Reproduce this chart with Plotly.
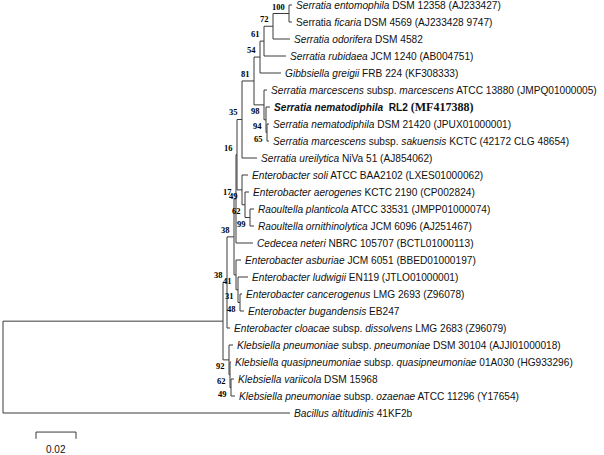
import plotly.graph_objects as go

# ---------------- data ----------------
LEAF_NAMES = ["ent", "fic", "odo", "rub", "gib", "marc", "RL2", "nem", "sak", "ure",
              "soli", "aer", "pla", "orn", "ced", "asb", "lud", "can", "bug", "clo",
              "kpn", "qua", "var", "oza", "bac"]
LEAF_LABELS = [
    "<i>Serratia entomophila</i> DSM 12358 (AJ233427)",
    "Serratia <i>ficaria</i> DSM 4569 (AJ233428 9747)",
    "<i>Serratia odorifera</i> DSM 4582",
    "<i>Serratia rubidaea</i> JCM 1240 (AB004751)",
    "<i>Gibbsiella greigii</i> FRB 224 (KF308333)",
    "<i>Serratia marcescens</i> subsp. <i>marcescens</i> ATCC 13880 (JMPQ01000005)",
    "<b><i>Serratia nematodiphila</i>  RL2 </b><span style='font-family:Liberation Serif;font-size:12px'><b>(MF417388)</b></span>",
    "<i>Serratia nematodiphila</i> DSM 21420 (JPUX01000001)",
    "<i>Serratia marcescens</i> subsp. <i>sakuensis</i> KCTC (42172 CLG 48654)",
    "<i>Serratia ureilytica</i> NiVa 51 (AJ854062)",
    "<i>Enterobacter soli</i> ATCC BAA2102 (LXES01000062)",
    "<i>Enterobacter aerogenes</i> KCTC 2190 (CP002824)",
    "<i>Raoultella planticola</i> ATCC 33531 (JMPP01000074)",
    "<i>Raoultella ornithinolytica</i> JCM 6096 (AJ251467)",
    "<i>Cedecea neteri</i> NBRC 105707 (BCTL01000113)",
    "<i>Enterobacter asburiae</i> JCM 6051 (BBED01000197)",
    "<i>Enterobacter ludwigii</i> EN119 (JTLO01000001)",
    "<i>Enterobacter cancerogenus</i> LMG 2693 (Z96078)",
    "<i>Enterobacter bugandensis</i> EB247",
    "<i>Enterobacter cloacae</i> subsp. <i>dissolvens</i> LMG 2683 (Z96079)",
    "<i>Klebsiella pneumoniae</i> subsp. <i>pneumoniae</i> DSM 30104 (AJJI01000018)",
    "<i>Klebsiella quasipneumoniae</i> subsp. <i>quasipneumoniae</i> 01A030 (HG933296)",
    "<i>Klebsiella variicola</i> DSM 15968",
    "<i>Klebsiella pneumoniae</i> subsp. <i>ozaenae</i> ATCC 11296 (Y17654)",
    "<i>Bacillus altitudinis</i> 41KF2b",
]
LEAF_PARENT = ["A100", "A100", "B72", "C61", "D54", "N98", "N94", "N65", "N65", "G35",
               "N49", "N62", "N99", "N99", "N17", "N41", "N31", "N48", "N48", "N38b",
               "K92", "Nk62", "Nk49", "Nk49", "root"]
LEAF_LENGTH = [0.0015, 0.0015, 0.0085, 0.011, 0.0105, 0.0015, 0.002, 0.001, 0.001, 0.0075,
               0.003, 0.002, 0.002, 0.002, 0.0085, 0.0025, 0.005, 0.001, 0.002, 0.0015,
               0.002, 0.0005, 0.0015, 0.002, 0.1435]

NODE_NAMES = ["R", "N38b", "N38a", "N17", "H16", "G35", "E81", "D54", "C61", "B72", "A100",
              "N98", "N94", "N65", "N49", "N62", "N99", "N41", "N31", "N48", "K92", "Nk62", "Nk49"]
NODE_PARENT = ["root", "R", "N38b", "N38a", "N17", "H16", "G35", "E81", "D54", "C61", "B72",
               "E81", "N98", "N94", "H16", "N49", "N62", "N38a", "N41", "N31", "R", "K92", "Nk62"]
NODE_LENGTH = [0.11, 0.002, 0.0035, 0.001, 0.0005, 0.0025, 0.006, 0.003, 0.002, 0.0045, 0.008,
               0.005, 0.001, 0.0005, 0.0025, 0.0015, 0.0025, 0.001, 0.001, 0.001, 0.003, 0.0005, 0.0005]
BOOTSTRAP = [None, 38, 38, 17, 16, 35, 81, 54, 61, 72, 100,
             98, 94, 65, 49, 62, 99, 41, 31, 48, 92, 62, 49]

SCALE_LENGTH = 0.02
SCALE_LABEL = "0.02"

# ---------------- layout / style ----------------
LABEL_ABOVE = {"N38b", "N38a", "N17", "H16", "G35", "E81", "D54", "C61", "B72", "A100"}
LINE_COLOR = "#3a3a3a"
SANS = "Liberation Sans, Arial, sans-serif"
SERIF = "Liberation Serif, Times New Roman, serif"

# ---------------- tree geometry ----------------
parent = {}
length = {}
for n, p, l in zip(LEAF_NAMES, LEAF_PARENT, LEAF_LENGTH):
    parent[n], length[n] = p, l
for n, p, l in zip(NODE_NAMES, NODE_PARENT, NODE_LENGTH):
    parent[n], length[n] = p, l
children = {}
for n in LEAF_NAMES + NODE_NAMES:
    children.setdefault(parent[n], []).append(n)

xpos = {"root": 0.0}
def getx(n):
    if n not in xpos:
        xpos[n] = getx(parent[n]) + length[n]
    return xpos[n]

ypos = {n: i for i, n in enumerate(LEAF_NAMES)}
def gety(n):
    if n not in ypos:
        ys = [gety(c) for c in children[n]]
        ypos[n] = (min(ys) + max(ys)) / 2
    return ypos[n]

for n in LEAF_NAMES + NODE_NAMES:
    getx(n); gety(n)

lx, ly = [], []
for n, ch in children.items():
    cys = [ypos[c] for c in ch]
    lx += [xpos[n], xpos[n], None]
    ly += [min(cys), max(cys), None]
    for c in ch:
        lx += [xpos[n], xpos[c], None]
        ly += [ypos[c], ypos[c], None]

fig = go.Figure()
fig.add_trace(go.Scatter(x=lx, y=ly, mode="lines", line=dict(color=LINE_COLOR, width=1),
                         hoverinfo="skip", showlegend=False))

annotations = []
for n, lab in zip(LEAF_NAMES, LEAF_LABELS):
    annotations.append(dict(x=xpos[n], y=ypos[n], text=lab, showarrow=False, xanchor="left",
                            yanchor="middle", xshift=2,
                            font=dict(family=SANS, size=10.15, color="#111")))
for n, b in zip(NODE_NAMES, BOOTSTRAP):
    if b is None:
        continue
    annotations.append(dict(x=xpos[n], y=ypos[n], text="<b>%d</b>" % b, showarrow=False,
                            xanchor="right", yanchor="middle", xshift=-2,
                            yshift=7 if n in LABEL_ABOVE else -6,
                            font=dict(family=SERIF, size=8.5, color="#000")))

# scale bar
sx0 = 0.0165
sy = 25.12
fig.add_trace(go.Scatter(x=[sx0, sx0, sx0 + SCALE_LENGTH, sx0 + SCALE_LENGTH],
                         y=[sy + 0.4, sy, sy, sy + 0.4], mode="lines",
                         line=dict(color=LINE_COLOR, width=1), hoverinfo="skip", showlegend=False))
annotations.append(dict(x=sx0 + SCALE_LENGTH / 2, y=26.15, text=SCALE_LABEL, showarrow=False,
                        xanchor="center", yanchor="middle",
                        font=dict(family=SANS, size=10, color="#111")))

fig.update_layout(
    width=604, height=455, margin=dict(l=0, r=0, t=0, b=0),
    paper_bgcolor="white", plot_bgcolor="white",
    xaxis=dict(visible=False, range=[-0.0015, 0.3005]),
    yaxis=dict(visible=False, range=[26.47, -0.294]),
    annotations=annotations,
)

fig.write_html("out.html", config={"displayModeBar": False})
with open("out.html", encoding="utf-8") as f:
    html = f.read()
html = html.replace("<body>", "<body style=\"margin:0;padding:0\">", 1)
with open("out.html", "w", encoding="utf-8") as f:
    f.write(html)
